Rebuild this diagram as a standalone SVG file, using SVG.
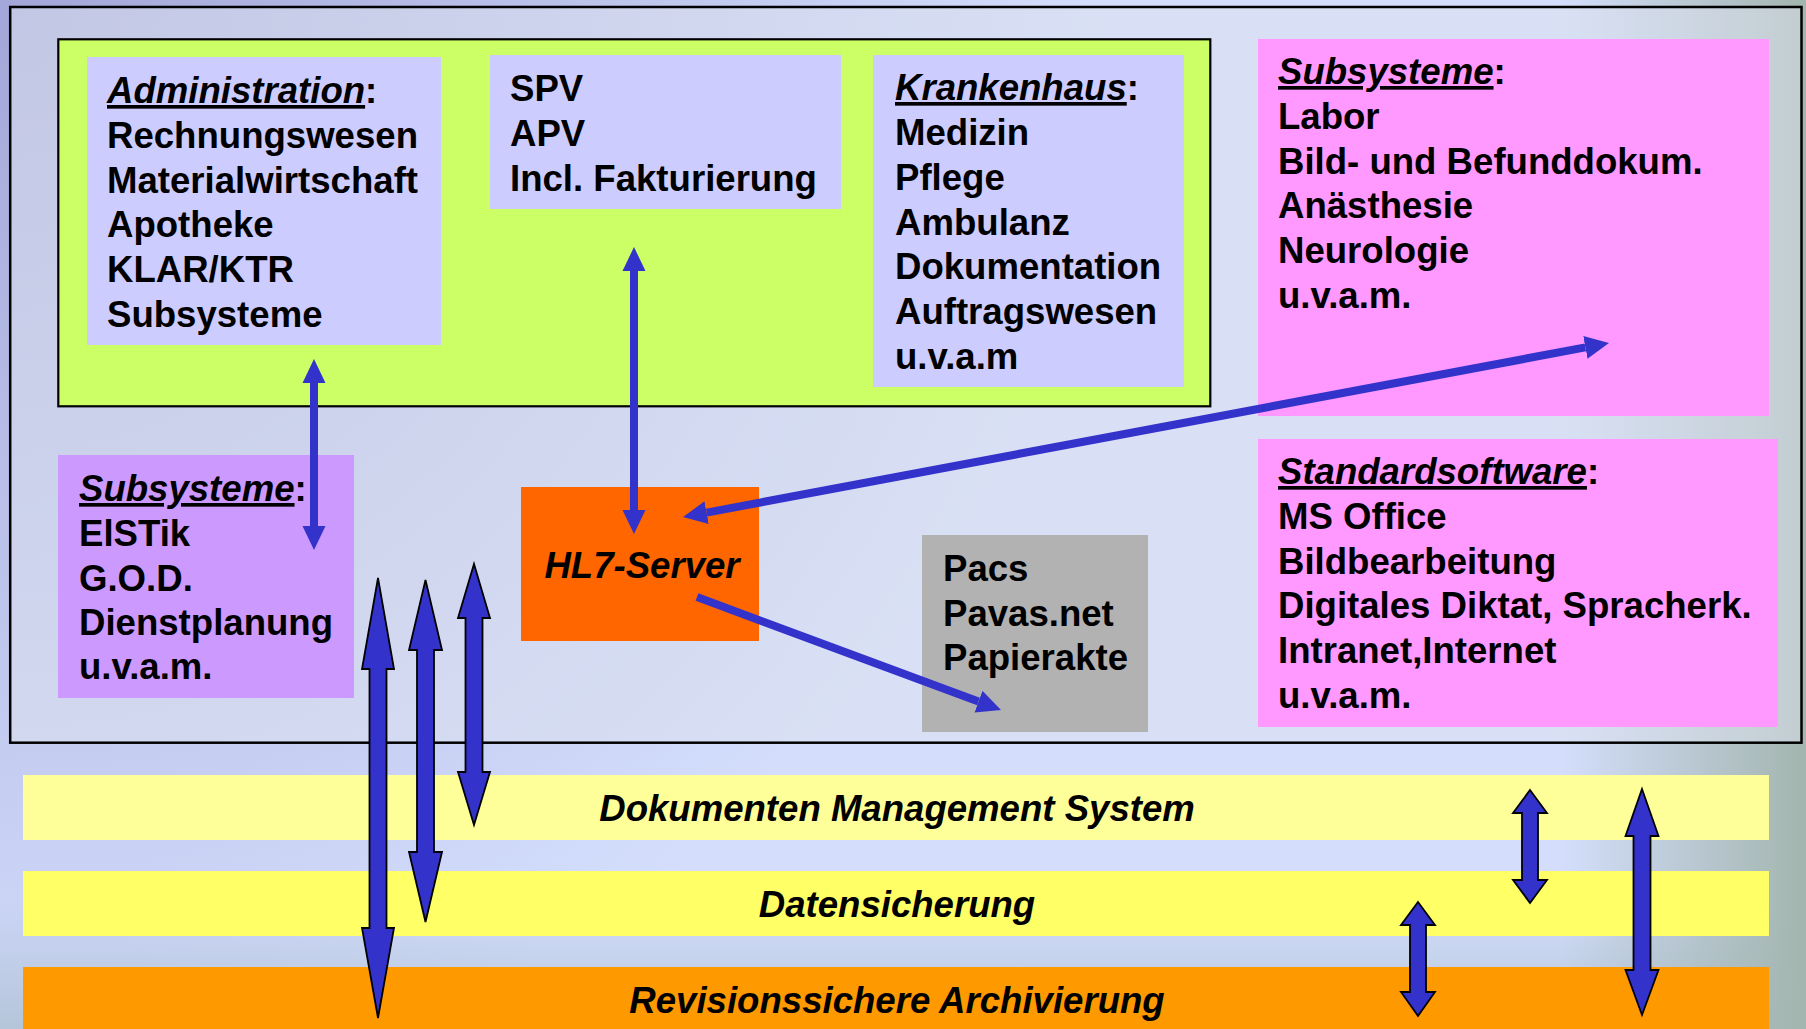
<svg xmlns="http://www.w3.org/2000/svg" width="1806" height="1029" viewBox="0 0 1806 1029">
  <defs>
    <radialGradient id="bgTL" cx="0" cy="0" r="1100" gradientUnits="userSpaceOnUse">
      <stop offset="0" stop-color="#a2a6d8" stop-opacity="1"/>
      <stop offset="1" stop-color="#a2a6d8" stop-opacity="0"/>
    </radialGradient>
    <linearGradient id="bgR" x1="1560" y1="0" x2="1800" y2="0" gradientUnits="userSpaceOnUse">
      <stop offset="0" stop-color="#a4b6b0" stop-opacity="0"/>
      <stop offset="1" stop-color="#a4b6b0" stop-opacity="1"/>
    </linearGradient>
    <linearGradient id="bgB" x1="0" y1="900" x2="0" y2="1029" gradientUnits="userSpaceOnUse">
      <stop offset="0" stop-color="#a8bccc" stop-opacity="0"/>
      <stop offset="1" stop-color="#a8bccc" stop-opacity="0.7"/>
    </linearGradient>
    <marker id="ah" markerUnits="userSpaceOnUse" markerWidth="24" markerHeight="24" refX="0" refY="11.5" orient="auto-start-reverse" viewBox="0 0 24 23">
      <path d="M0,0 L24,11.5 L0,23 z" fill="#3333cc"/>
    </marker>
    <style>
      text { font-family: "Liberation Sans", Arial, sans-serif; font-weight: bold; font-size: 36.6px; fill: #000; }
      .it { font-style: italic; }
      .ul { text-decoration: underline; font-style: italic; }
      .mid { text-anchor: middle; }
      .conn { stroke: #3333cc; stroke-width: 8; fill: none; }
      .block { fill: #3333cc; stroke: #000; stroke-width: 1.8; stroke-linejoin: miter; }
    </style>
  </defs>

  <!-- background -->
  <rect x="0" y="0" width="1806" height="1029" fill="#d4defc"/>
  <rect x="0" y="0" width="1806" height="1029" fill="url(#bgTL)"/>
  <rect x="0" y="0" width="1806" height="1029" fill="url(#bgB)"/>
  <rect x="0" y="0" width="1806" height="1029" fill="url(#bgR)"/>

  <!-- outer frame -->
  <rect x="10.2" y="7" width="1791.3" height="735.7" fill="#dde2ee" fill-opacity="0.55" stroke="#000" stroke-width="2.5"/>

  <!-- bands -->
  <g id="band-dms">
    <rect x="23" y="775" width="1746" height="65" fill="#ffff99"/>
    <text x="897" y="821" class="it mid">Dokumenten Management System</text>
  </g>
  <g id="band-datensicherung">
    <rect x="23" y="871" width="1746" height="65" fill="#ffff66"/>
    <text x="897" y="917" class="it mid">Datensicherung</text>
  </g>
  <g id="band-archiv">
    <rect x="23" y="967" width="1746" height="62" fill="#ff9900"/>
    <text x="897" y="1013" class="it mid">Revisionssichere Archivierung</text>
  </g>

  <!-- green container -->
  <g id="kis">
    <rect x="58.3" y="39.3" width="1152" height="367" fill="#ccff66" stroke="#000" stroke-width="2.2"/>
  </g>

  <g id="administration">
    <rect x="87" y="57" width="354" height="288" fill="#ccccff"/>
    <text x="107" y="103"><tspan class="ul">Administration</tspan>:</text>
    <text x="107" y="148">Rechnungswesen</text>
    <text x="107" y="193">Materialwirtschaft</text>
    <text x="107" y="237">Apotheke</text>
    <text x="107" y="282">KLAR/KTR</text>
    <text x="107" y="327">Subsysteme</text>
  </g>

  <g id="spv">
    <rect x="490" y="55" width="351" height="154" fill="#ccccff"/>
    <text x="510" y="101">SPV</text>
    <text x="510" y="146">APV</text>
    <text x="510" y="191">Incl. Fakturierung</text>
  </g>

  <g id="krankenhaus">
    <rect x="873" y="55" width="311" height="332" fill="#ccccff"/>
    <text x="895" y="100"><tspan class="ul">Krankenhaus</tspan>:</text>
    <text x="895" y="145">Medizin</text>
    <text x="895" y="190">Pflege</text>
    <text x="895" y="235">Ambulanz</text>
    <text x="895" y="279">Dokumentation</text>
    <text x="895" y="324">Auftragswesen</text>
    <text x="895" y="369">u.v.a.m</text>
  </g>

  <g id="subsysteme-rechts">
    <rect x="1258" y="39" width="511" height="377" fill="#ff99ff"/>
    <text x="1278" y="84"><tspan class="ul">Subsysteme</tspan>:</text>
    <text x="1278" y="129">Labor</text>
    <text x="1278" y="174">Bild- und Befunddokum.</text>
    <text x="1278" y="218">Anästhesie</text>
    <text x="1278" y="263">Neurologie</text>
    <text x="1278" y="308">u.v.a.m.</text>
  </g>

  <g id="standardsoftware">
    <rect x="1258" y="439" width="520" height="288" fill="#ff99ff"/>
    <text x="1278" y="484"><tspan class="ul">Standardsoftware</tspan>:</text>
    <text x="1278" y="529">MS Office</text>
    <text x="1278" y="574">Bildbearbeitung</text>
    <text x="1278" y="618">Digitales Diktat, Spracherk.</text>
    <text x="1278" y="663">Intranet,Internet</text>
    <text x="1278" y="708">u.v.a.m.</text>
  </g>

  <g id="subsysteme-links">
    <rect x="58" y="455" width="296" height="243" fill="#cc99ff"/>
    <text x="79" y="501"><tspan class="ul">Subsysteme</tspan>:</text>
    <text x="79" y="546">ElSTik</text>
    <text x="79" y="591">G.O.D.</text>
    <text x="79" y="635">Dienstplanung</text>
    <text x="79" y="679">u.v.a.m.</text>
  </g>

  <g id="hl7">
    <rect x="521" y="487" width="238" height="154" fill="#ff6600"/>
    <text x="642" y="578" class="it mid">HL7-Server</text>
  </g>

  <g id="pacs">
    <rect x="922" y="535" width="226" height="197" fill="#b2b2b2"/>
    <text x="943" y="581">Pacs</text>
    <text x="943" y="626">Pavas.net</text>
    <text x="943" y="670">Papierakte</text>
  </g>

  <!-- connectors -->
  <g id="connectors">
    <line class="conn" x1="314" y1="383" x2="314" y2="526" marker-start="url(#ah)" marker-end="url(#ah)"/>
    <line class="conn" x1="634" y1="271" x2="634" y2="510" marker-start="url(#ah)" marker-end="url(#ah)"/>
    <line class="conn" x1="706.6" y1="512.6" x2="1585.4" y2="347.4" marker-start="url(#ah)" marker-end="url(#ah)"/>
    <line class="conn" x1="697" y1="597" x2="978.5" y2="701.6" marker-end="url(#ah)"/>

    <polygon class="block" points="378,578 394,669 386.5,669 386.5,928 394,928 378,1018 362,928 369.5,928 369.5,669 362,669"/>
    <polygon class="block" points="425.5,580 442,650 434,650 434,852 442,852 425.5,922 409,852 417,852 417,650 409,650"/>
    <polygon class="block" points="474,564 490,618 482.5,618 482.5,772 490,772 474,825 458,772 465.5,772 465.5,618 458,618"/>
    <polygon class="block" points="1530,790 1547,813 1538,813 1538,880 1547,880 1530,903 1513,880 1522,880 1522,813 1513,813"/>
    <polygon class="block" points="1418,902 1435,925 1426,925 1426,992 1435,992 1418,1016 1401,992 1410,992 1410,925 1401,925"/>
    <polygon class="block" points="1642,789 1658.5,836 1650.5,836 1650.5,970 1658.5,970 1642,1015 1625.5,970 1633.5,970 1633.5,836 1625.5,836"/>
  </g>
</svg>
